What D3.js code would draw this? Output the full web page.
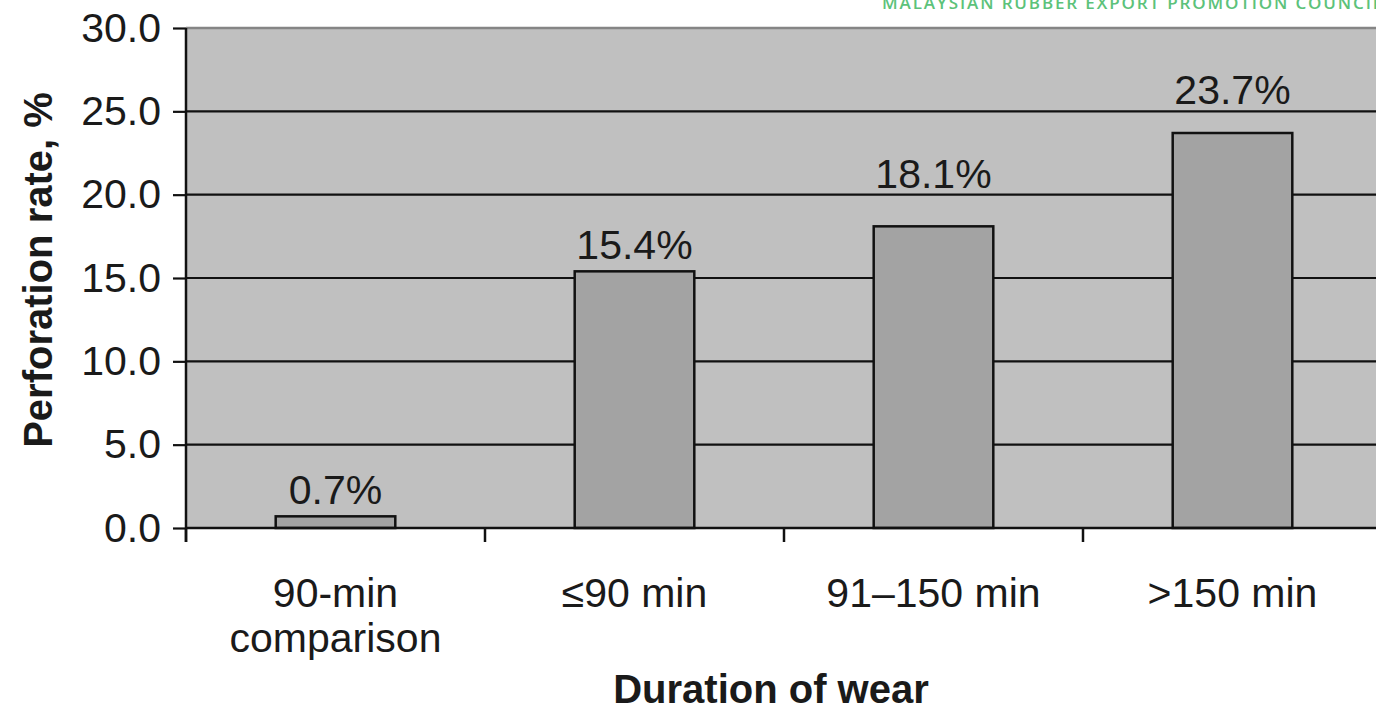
<!DOCTYPE html>
<html>
<head>
<meta charset="utf-8">
<script src="https://cdn.jsdelivr.net/npm/d3@7/dist/d3.min.js"></script>
<style>
  html, body { margin: 0; padding: 0; background: #ffffff; }
  svg { display: block; }
</style>
</head>
<body>
<svg id="chart" width="1376" height="710"></svg>
<script>
// Perforation rate of surgical gloves by duration of wear
const categories = ["90-min|comparison", "≤90 min", "91–150 min", ">150 min"];
const rates = [0.7, 15.4, 18.1, 23.7];
const valueLabels = ["0.7%", "15.4%", "18.1%", "23.7%"];
const yTicks = [0, 5, 10, 15, 20, 25, 30];
const yTickLabels = ["0.0", "5.0", "10.0", "15.0", "20.0", "25.0", "30.0"];

const svg = d3.select("#chart");
const font = "'Liberation Sans', Arial, Helvetica, sans-serif";
const textSize = 41;

const plot = { left: 186, right: 1382, top: 28, bottom: 528 };

const x = d3.scaleBand()
  .domain(categories)
  .range([plot.left, plot.right])
  .paddingInner(0.6)
  .paddingOuter(0.3);

const y = d3.scaleLinear()
  .domain([0, 30])
  .range([plot.bottom, plot.top]);

// watermark line along the top edge
svg.append("text")
  .attr("x", 882)
  .attr("y", 9)
  .attr("fill", "#5cc27a")
  .attr("font-family", "'Open Sans', sans-serif")
  .attr("font-weight", 600)
  .attr("font-size", 17)
  .attr("textLength", 500)
  .text("MALAYSIAN RUBBER EXPORT PROMOTION COUNCIL");

// plot background
svg.append("rect")
  .attr("x", plot.left)
  .attr("y", plot.top)
  .attr("width", plot.right - plot.left)
  .attr("height", plot.bottom - plot.top)
  .attr("fill", "#c0c0c0");

// top border of the plot area
svg.append("line")
  .attr("x1", plot.left).attr("x2", plot.right)
  .attr("y1", plot.top).attr("y2", plot.top)
  .attr("stroke", "#858585")
  .attr("stroke-width", 2.5);

// horizontal gridlines
svg.append("g")
  .selectAll("line")
  .data(yTicks.filter(d => d > 0 && d < 30))
  .join("line")
  .attr("x1", plot.left).attr("x2", plot.right)
  .attr("y1", d => y(d)).attr("y2", d => y(d))
  .attr("stroke", "#111")
  .attr("stroke-width", 2.2);

// bars
svg.append("g")
  .selectAll("rect")
  .data(rates)
  .join("rect")
  .attr("x", (d, i) => x(categories[i]))
  .attr("y", d => y(d))
  .attr("width", x.bandwidth())
  .attr("height", d => y(0) - y(d))
  .attr("fill", "#a3a3a3")
  .attr("stroke", "#111")
  .attr("stroke-width", 2.5);

// value labels: sit above the bar, lifted clear of any gridline they would cross
const labelGap = 12, labelHeight = 29, gridGap = 7;
svg.append("g")
  .selectAll("text")
  .data(rates)
  .join("text")
  .attr("x", (d, i) => x(categories[i]) + x.bandwidth() / 2)
  .attr("y", d => {
    let base = y(d) - labelGap;
    const crossed = yTicks.map(y).filter(g => g < base && g > base - labelHeight);
    if (crossed.length) base = d3.min(crossed) - gridGap;
    return base;
  })
  .attr("text-anchor", "middle")
  .attr("font-family", font)
  .attr("font-size", textSize)
  .attr("fill", "#1a1a1a")
  .text((d, i) => valueLabels[i]);

// y axis
const yAxis = d3.axisLeft(y)
  .tickValues(yTicks)
  .tickFormat((d, i) => yTickLabels[i])
  .tickSize(13)
  .tickPadding(12);

const gy = svg.append("g")
  .attr("transform", `translate(${plot.left},0)`)
  .call(yAxis);
gy.select(".domain").remove();
gy.selectAll(".tick line").attr("stroke", "#111").attr("stroke-width", 2.2);
gy.selectAll(".tick text")
  .attr("font-family", font)
  .attr("font-size", textSize)
  .attr("fill", "#1a1a1a");

svg.append("line")
  .attr("x1", plot.left).attr("x2", plot.left)
  .attr("y1", plot.top).attr("y2", plot.bottom + 14)
  .attr("stroke", "#111")
  .attr("stroke-width", 2.5);

// x axis baseline and category separators
svg.append("line")
  .attr("x1", plot.left).attr("x2", plot.right)
  .attr("y1", plot.bottom).attr("y2", plot.bottom)
  .attr("stroke", "#111")
  .attr("stroke-width", 2.5);

const boundaries = d3.range(categories.length + 1).map(i => plot.left + i * x.step());
svg.append("g")
  .selectAll("line")
  .data(boundaries)
  .join("line")
  .attr("x1", d => d).attr("x2", d => d)
  .attr("y1", plot.bottom).attr("y2", plot.bottom + 14)
  .attr("stroke", "#111")
  .attr("stroke-width", 2.5);

// category labels
const cat = svg.append("g")
  .selectAll("text")
  .data(categories)
  .join("text")
  .attr("x", d => x(d) + x.bandwidth() / 2)
  .attr("y", 607)
  .attr("text-anchor", "middle")
  .attr("font-family", font)
  .attr("font-size", textSize)
  .attr("fill", "#1a1a1a");
cat.selectAll("tspan")
  .data(d => d.split("|"))
  .join("tspan")
  .attr("x", function () { return d3.select(this.parentNode).attr("x"); })
  .attr("dy", (d, i) => i === 0 ? 0 : 45)
  .text(d => d);

// axis titles
svg.append("text")
  .attr("x", 771)
  .attr("y", 703)
  .attr("text-anchor", "middle")
  .attr("font-family", font)
  .attr("font-weight", "bold")
  .attr("font-size", 40)
  .attr("fill", "#1a1a1a")
  .text("Duration of wear");

svg.append("text")
  .attr("transform", "translate(52,270) rotate(-90)")
  .attr("text-anchor", "middle")
  .attr("font-family", font)
  .attr("font-weight", "bold")
  .attr("font-size", 40)
  .attr("fill", "#1a1a1a")
  .text("Perforation rate, %");
</script>
</body>
</html>
